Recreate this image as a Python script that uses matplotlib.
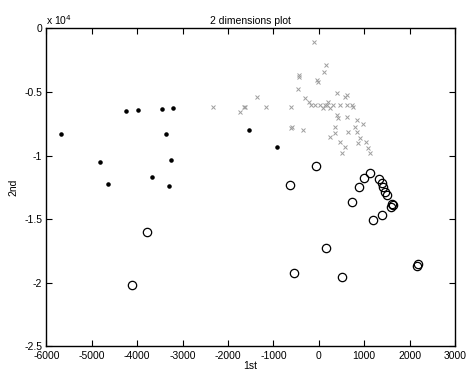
import numpy as np
import matplotlib
matplotlib.use('Agg')
from matplotlib import pyplot as plt
from matplotlib.ticker import FuncFormatter

# 数据
dots_x = [-5683, -4238, -3987, -3445, -3203, -3370, -4824, -3247, -4641, -3678, -3304, -1529, -925]
dots_y = [-8307, -6496, -6417, -6362, -6284, -8283, -10512, -10378, -12220, -11693, -12425, -8016, -9331]

circ_x = [-53, -632, 154, -551, -3789, -4106, 513, 740, 1189, 1401, 2159, 2194,
          1615, 1643, 881, 1004, 1137, 1335, 1388, 1423, 1460, 1498, 1593]
circ_y = [-10850, -12299, -17283, -19197, -16047, -20173, -19543, -13638, -15055, -14709, -18701, -18488,
          -13819, -13921, -12457, -11795, -11354, -11874, -12189, -12504, -12850, -13134, -14079]

cross_x = [-97, 161, 123, -44, -22, -441, -434, -463, -1366, -2322, -1623, -1645, -1733, -1167,
           -617, -302, -220, -176, -81, 29, 139, 211, 176, 322, 469, 617, 727, 101, 249,
           396, 617, 579, 762, 432, 617, 359, 800, 837, 249, 652, 910, 396, 469, 579, 507,
           872, 1093, 1130, -617, -339, -595, 359, 837, 1040, 980]
cross_y = [-1039, -2874, -3449, -4055, -4236, -3661, -3795, -4787, -5370, -6157, -6157, -6205, -6551, -6157,
           -6157, -5496, -5764, -5984, -5984, -5984, -5984, -5764, -5984, -5984, -5984, -5984, -5984, -6283, -6283,
           -5055, -5236, -5370, -6157, -7071, -6945, -7732, -7732, -8126, -8520, -8126, -8646, -6811, -8913, -9307, -9827,
           -9040, -9433, -9827, -7858, -7992, -7732, -8252, -7205, -8900, -7500]

plt.rcParams['font.family'] = ['Liberation Sans', 'DejaVu Sans']
plt.rcParams['axes.unicode_minus'] = False

fig = plt.figure(figsize=(4.66, 3.74), dpi=100, facecolor='white')
ax = fig.add_axes([0.0994, 0.0741, 0.877, 0.8497])

ax.plot(cross_x, cross_y, 'x', color='0.62', markersize=3.5, markeredgewidth=0.7)
ax.plot(dots_x, dots_y, '.', color='black', markersize=4.5)
ax.plot(circ_x, circ_y, 'o', markerfacecolor='none', markeredgecolor='black', markersize=6, markeredgewidth=0.9)

ax.set_xlim(-6000, 3000)
ax.set_ylim(-25000, 0)
ax.set_xticks(np.arange(-6000, 3001, 1000))
ax.set_yticks(np.arange(-25000, 1, 5000))
ax.yaxis.set_major_formatter(FuncFormatter(lambda v, p: '%g' % (v / 1e4)))
ax.tick_params(direction='in', top=True, right=True, labelsize=7.5, length=4, width=0.8, pad=3.5)
ax.tick_params(axis='y', pad=3)
for s in ax.spines.values():
    s.set_linewidth(1.0)

ax.text(0.0, 1.005, 'x 10$^4$', transform=ax.transAxes, fontsize=7.5, ha='left', va='bottom')
ax.set_title('2 dimensions plot', fontsize=7.5, pad=3)
ax.set_xlabel('1st', fontsize=7.5, labelpad=0)
ax.set_ylabel('2nd', fontsize=7.5, labelpad=4)

plt.savefig('out.png', dpi=100)
